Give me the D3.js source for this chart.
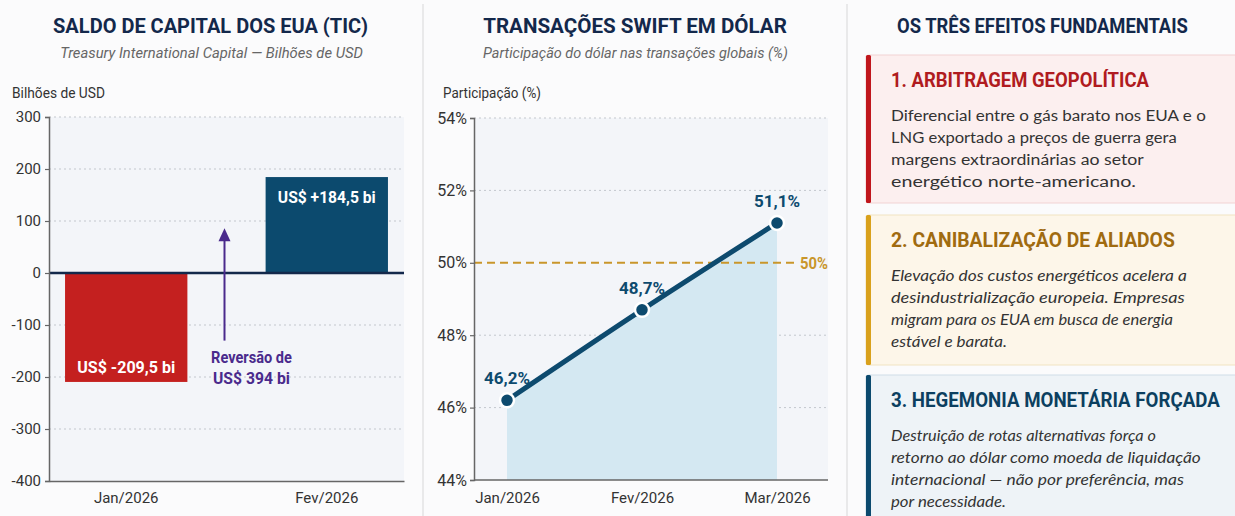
<!DOCTYPE html>
<html>
<head>
<meta charset="utf-8">
<script src="https://cdn.jsdelivr.net/npm/d3@7"></script>
<style>
  body { margin: 0; background: #fbfbfc; }
  svg { display: block; font-family: Roboto, "Noto Sans", sans-serif; }
</style>
</head>
<body>
<div id="chart"></div>
<script>
// --- left chart: TIC capital balance
const ticMonths = ["Jan/2026", "Fev/2026"];
const ticValues = [-209.5, 184.5];
const ticLabels = ["US$ -209,5 bi", "US$ +184,5 bi"];
const ticTicks = [300, 200, 100, 0, -100, -200, -300, -400];
const reversalText = ["Reversão de", "US$ 394 bi"];
const arrowFrom = -130, arrowTo = 86;

// --- middle chart: SWIFT share of USD
const swiftMonths = ["Jan/2026", "Fev/2026", "Mar/2026"];
const swiftValues = [46.2, 48.7, 51.1];
const swiftLabels = ["46,2%", "48,7%", "51,1%"];
const swiftTicks = [44, 46, 48, 50, 52, 54];
const swiftRef = 50;

// --- right column: the three effects
const effectTitles = ["1. ARBITRAGEM GEOPOLÍTICA", "2. CANIBALIZAÇÃO DE ALIADOS", "3. HEGEMONIA MONETÁRIA FORÇADA"];
const effectTexts = [
  ["Diferencial entre o gás barato nos EUA e o", "LNG exportado a preços de guerra gera", "margens extraordinárias ao setor", "energético norte-americano."],
  ["Elevação dos custos energéticos acelera a", "desindustrialização europeia. Empresas", "migram para os EUA em busca de energia", "estável e barata."],
  ["Destruição de rotas alternativas força o", "retorno ao dólar como moeda de liquidação", "internacional — não por preferência, mas", "por necessidade."]
];

const W = 1235, H = 516;
const navy = "#13284b", ink = "#333";

const svg = d3.select("#chart").append("svg")
    .attr("width", W)
    .attr("height", H);

svg.append("rect").attr("width", W).attr("height", H).attr("fill", "#fbfbfc");

// squeeze text horizontally to the width it has in the picture
function fit(sel, w) {
    sel.each(function() {
        const len = this.getComputedTextLength();
        const x = +this.getAttribute("x");
        const k = w / len;
        d3.select(this).attr("transform", `translate(${x},0) scale(${k},1) translate(${-x},0)`);
    });
}

function heading(x, text, w) {
    svg.append("text")
        .attr("x", x).attr("y", 33.5)
        .attr("text-anchor", "middle")
        .attr("font-size", 21).attr("font-weight", 700)
        .attr("fill", navy)
        .text(text)
        .call(fit, w);
}

function subheading(x, text, w) {
    svg.append("text")
        .attr("x", x).attr("y", 58)
        .attr("text-anchor", "middle")
        .attr("font-size", 14.5).attr("font-style", "italic")
        .attr("fill", "#666")
        .text(text)
        .call(fit, w);
}

function styleAxis(g, size) {
    g.select(".domain").attr("stroke", "#666").attr("stroke-width", 1.5);
    g.selectAll(".tick line").attr("stroke", "#666").attr("stroke-width", 1.2);
    g.selectAll("text").attr("font-size", size).attr("fill", ink)
        .attr("font-family", "Roboto, sans-serif");
}

// panel dividers
[423, 847].forEach(x => {
    svg.append("line").attr("x1", x).attr("x2", x).attr("y1", 4).attr("y2", H)
        .attr("stroke", "#dedede").attr("stroke-width", 1.2);
});

// ================= LEFT: bar chart =================
heading(210.5, "SALDO DE CAPITAL DOS EUA (TIC)", 315);
subheading(211.5, "Treasury International Capital — Bilhões de USD", 303);

svg.append("text").attr("x", 12).attr("y", 98)
    .attr("font-size", 14).attr("fill", ink)
    .text("Bilhões de USD").call(fit, 93);

const L = {left: 49, right: 404, top: 117, bottom: 481};
const yL = d3.scaleLinear().domain([-400, 300]).range([L.bottom, L.top]);
const xL = d3.scaleBand().domain(ticMonths).range([L.left, L.right])
    .paddingInner(0.39).paddingOuter(0.08);

svg.append("rect")
    .attr("x", L.left).attr("y", L.top)
    .attr("width", L.right - L.left).attr("height", L.bottom - L.top)
    .attr("fill", "#f3f5f9");

svg.append("g").selectAll("line")
    .data(ticTicks.filter(d => d !== 0 && d !== -400))
    .join("line")
    .attr("x1", L.left).attr("x2", L.right)
    .attr("y1", d => yL(d)).attr("y2", d => yL(d))
    .attr("stroke", "#c3c7cd").attr("stroke-dasharray", "2,3");

svg.append("g").selectAll("rect")
    .data(ticValues)
    .join("rect")
    .attr("x", (d, i) => xL(ticMonths[i]))
    .attr("width", xL.bandwidth())
    .attr("y", d => Math.min(yL(d), yL(0)))
    .attr("height", d => Math.abs(yL(d) - yL(0)))
    .attr("fill", d => d < 0 ? "#c4201f" : "#0c4a6e");

svg.append("g").selectAll("text")
    .data(ticValues)
    .join("text")
    .attr("x", (d, i) => xL(ticMonths[i]) + xL.bandwidth() / 2)
    .attr("y", d => d < 0 ? yL(d) - 9 : yL(d) + 26)
    .attr("text-anchor", "middle")
    .attr("font-size", 17).attr("font-weight", 700).attr("fill", "#fff")
    .text((d, i) => ticLabels[i])
    .call(fit, 98);

// zero line
svg.append("line")
    .attr("x1", L.left).attr("x2", L.right)
    .attr("y1", yL(0)).attr("y2", yL(0))
    .attr("stroke", navy).attr("stroke-width", 2.5);

svg.append("g")
    .attr("transform", `translate(${L.left},0)`)
    .call(d3.axisLeft(yL).tickValues(ticTicks).tickSize(4).tickPadding(4).tickFormat(d => String(d)))
    .call(g => styleAxis(g, 15));

svg.append("g")
    .attr("transform", `translate(0,${L.bottom})`)
    .call(d3.axisBottom(xL).tickSize(0).tickPadding(11))
    .call(g => styleAxis(g, 15));

// reversal arrow
const purple = "#4a2a8c";
const ax = (xL(ticMonths[0]) + xL(ticMonths[1]) + xL.bandwidth()) / 2 - 2;
svg.append("line")
    .attr("x1", ax).attr("x2", ax)
    .attr("y1", yL(arrowFrom)).attr("y2", yL(arrowTo) + 10)
    .attr("stroke", purple).attr("stroke-width", 2);
svg.append("path")
    .attr("d", `M${ax},${yL(arrowTo)} l6,13 l-12,0 z`)
    .attr("fill", purple);
svg.append("g").selectAll("text")
    .data(reversalText)
    .join("text")
    .attr("x", ax + 27)
    .attr("y", (d, i) => yL(arrowFrom) + 22 + i * 21)
    .attr("text-anchor", "middle")
    .attr("font-size", 16).attr("font-weight", 700).attr("fill", purple)
    .text(d => d)
    .each(function(d, i) { d3.select(this).call(fit, i ? 77 : 81); });

// ================= MIDDLE: line chart =================
heading(635, "TRANSAÇÕES SWIFT EM DÓLAR", 304);
subheading(635.5, "Participação do dólar nas transações globais (%)", 305);

svg.append("text").attr("x", 443).attr("y", 98)
    .attr("font-size", 14).attr("fill", ink)
    .text("Participação (%)").call(fit, 98);

const M = {left: 474, right: 828, top: 118, bottom: 480};
const yM = d3.scaleLinear().domain([44, 54]).range([M.bottom, M.top]);
const xM = d3.scalePoint().domain(swiftMonths).range([M.left + 33, M.right - 51]);

svg.append("rect")
    .attr("x", M.left).attr("y", M.top)
    .attr("width", M.right - M.left).attr("height", M.bottom - M.top)
    .attr("fill", "#f3f5f9");

svg.append("g").selectAll("line")
    .data(swiftTicks.filter(d => d !== 44 && d !== swiftRef))
    .join("line")
    .attr("x1", M.left).attr("x2", M.right)
    .attr("y1", d => yM(d)).attr("y2", d => yM(d))
    .attr("stroke", "#c3c7cd").attr("stroke-dasharray", "2,3");

const pts = swiftValues.map((v, i) => [xM(swiftMonths[i]), yM(v)]);

svg.append("path")
    .datum(pts)
    .attr("d", d3.area().x(d => d[0]).y0(M.bottom).y1(d => d[1]).curve(d3.curveMonotoneX))
    .attr("fill", "#d4e8f2");

svg.append("line")
    .attr("x1", M.left).attr("x2", M.right - 29)
    .attr("y1", yM(swiftRef)).attr("y2", yM(swiftRef))
    .attr("stroke", "#c9962b").attr("stroke-width", 2).attr("stroke-dasharray", "8,5");
svg.append("text")
    .attr("x", M.right - 28).attr("y", yM(swiftRef) + 6)
    .attr("font-size", 17).attr("font-weight", 700).attr("fill", "#c9962b")
    .text(swiftRef + "%").call(fit, 28);

svg.append("path")
    .datum(pts)
    .attr("d", d3.line().curve(d3.curveMonotoneX))
    .attr("fill", "none")
    .attr("stroke", "#0d4a6e").attr("stroke-width", 5).attr("stroke-linecap", "round");

svg.append("g").selectAll("circle")
    .data(pts)
    .join("circle")
    .attr("cx", d => d[0]).attr("cy", d => d[1]).attr("r", 7)
    .attr("fill", "#0d4a6e").attr("stroke", "#fff").attr("stroke-width", 2.5);

svg.append("g").selectAll("text")
    .data(pts)
    .join("text")
    .attr("x", d => d[0]).attr("y", d => d[1] - 16)
    .attr("text-anchor", "middle")
    .attr("font-size", 17).attr("font-weight", 700).attr("fill", "#0d4a6e")
    .text((d, i) => swiftLabels[i])
    .call(fit, 46);

svg.append("g")
    .attr("transform", `translate(${M.left},0)`)
    .call(d3.axisLeft(yM).tickValues(swiftTicks).tickSize(4).tickPadding(3).tickFormat(d => d + "%"))
    .call(g => styleAxis(g, 16));

svg.append("g")
    .attr("transform", `translate(0,${M.bottom})`)
    .call(d3.axisBottom(xM).tickSize(0).tickPadding(12))
    .call(g => g.select(".domain").attr("d", `M${M.left},0H${M.right}`))
    .call(g => styleAxis(g, 15));

// ================= RIGHT: effect cards =================
heading(1042.5, "OS TRÊS EFEITOS FUNDAMENTAIS", 291);

const cardTops = [55, 215, 375];
const cardHeights = [148, 150, 160];
const cardStyle = [
    {accent: "#c0161c", bg: "#fcefef", border: "#f2d3d4", title: "#b01b20", italic: false},
    {accent: "#d9a11c", bg: "#fdf6e9", border: "#f2e3c2", title: "#a06b10", italic: true},
    {accent: "#0c4a6e", bg: "#eef3f7", border: "#d0dee8", title: "#0c3f60", italic: true}
];
const titleWidths = [258, 284, 329];
const lineWidths = [[315, 286, 253, 245], [296, 294, 282, 116], [265, 310, 293, 115]];

effectTitles.forEach((t, i) => {
    const top = cardTops[i], s = cardStyle[i];
    const g = svg.append("g");
    g.append("rect")
        .attr("x", 866).attr("y", top).attr("width", 380).attr("height", cardHeights[i])
        .attr("rx", 3)
        .attr("fill", s.bg).attr("stroke", s.border).attr("stroke-width", 1.2);
    g.append("rect")
        .attr("x", 866).attr("y", top).attr("width", 5).attr("height", cardHeights[i])
        .attr("rx", 1.5)
        .attr("fill", s.accent);
    g.append("text")
        .attr("x", 891).attr("y", top + 32)
        .attr("font-size", 20).attr("font-weight", 700).attr("fill", s.title)
        .text(t).call(fit, titleWidths[i]);
    g.selectAll("text.body")
        .data(effectTexts[i])
        .join("text")
        .attr("class", "body")
        .attr("x", 891)
        .attr("y", (d, j) => top + 66 + j * 22)
        .attr("font-family", "Lato, sans-serif")
        .attr("font-size", 16)
        .attr("font-style", s.italic ? "italic" : "normal")
        .attr("fill", ink)
        .text(d => d)
        .each(function(d, j) { d3.select(this).call(fit, lineWidths[i][j]); });
});
</script>
</body>
</html>
